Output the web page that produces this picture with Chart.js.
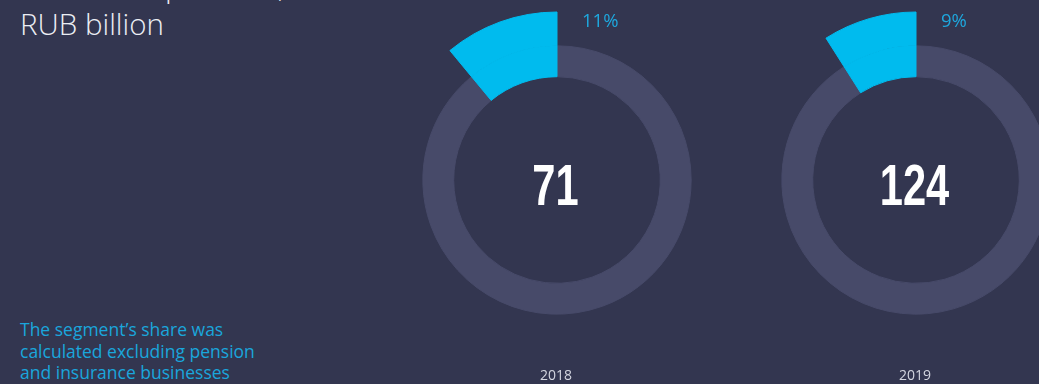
<!DOCTYPE html>
<html>
<head>
<meta charset="utf-8">
<script src="https://cdn.jsdelivr.net/npm/chart.js@4/dist/chart.umd.min.js"></script>
<style>
  html, body { margin: 0; padding: 0; }
  body {
    width: 1039px; height: 384px; overflow: hidden; position: relative;
    background: #333650; font-family: "Open Sans", sans-serif;
  }
  .title {
    position: absolute; left: 20px; top: -33px;
    color: #eceef4; font-size: 29.5px; font-weight: 350; line-height: 38px;
    white-space: nowrap;
  }
  .note {
    position: absolute; left: 20px; top: 319px;
    color: #1aa6dc; font-size: 17.5px; font-weight: 400; line-height: 21.5px;
    white-space: nowrap;
  }
  .donut { position: absolute; top: 0; }
  #d2018 { left: 378px; }
  #d2019 { left: 737px; }
</style>
</head>
<body>
<div class="title">Retail loan portfolio,<br>RUB billion</div>
<div class="note">The segment’s share was<br>calculated excluding pension<br>and insurance businesses</div>
<canvas id="d2018" class="donut" width="358" height="384"></canvas>
<canvas id="d2019" class="donut" width="358" height="384"></canvas>
<script>
const years = ['2018', '2019'];
const totals = [71, 124];      // RUB billion
const shares = [11, 9];        // segment share, %

const cyan = '#00bbee';
const ringGrey = '#474a69';
const clear = 'rgba(0,0,0,0)';

// text inside and around each ring
const donutText = {
  id: 'donutText',
  afterDraw(chart, args, opts) {
    const ctx = chart.ctx;
    const arc = chart.getDatasetMeta(1).data[0];
    const cx = arc.x, cy = arc.y;
    const i = opts.index;
    ctx.save();

    // total in the middle, squeezed bold digits
    ctx.fillStyle = '#ffffff';
    ctx.font = 'bold 57px "Liberation Sans", Arial, sans-serif';
    ctx.textAlign = 'center';
    ctx.textBaseline = 'alphabetic';
    ctx.translate(cx - 1.5, cy + 25);
    ctx.scale(0.73, 1);
    ctx.fillText(String(totals[i]), 0, 0);
    ctx.setTransform(1, 0, 0, 1, 0, 0);

    // share label to the right of the top
    ctx.fillStyle = '#1ea8de';
    ctx.font = '18.5px "Open Sans"';
    ctx.textAlign = 'left';
    ctx.fillText(shares[i] + '%', cx + 25, 27);

    // year below the ring
    ctx.fillStyle = '#d4d6e0';
    ctx.font = '14px "Open Sans"';
    ctx.textAlign = 'center';
    ctx.fillText(years[i], cx - 1, 380);
    ctx.restore();
  }
};

function makeDonut(canvasId, i) {
  const rest = 100 - shares[i];
  return new Chart(document.getElementById(canvasId), {
    type: 'doughnut',
    data: {
      labels: ['other', 'segment'],
      datasets: [
        // outer band: only the segment reaches out here
        {
          data: [rest, shares[i]], weight: 34,
          backgroundColor: [clear, cyan], borderColor: [clear, cyan]
        },
        // inner band: grey ring plus the segment
        {
          data: [rest, shares[i]], weight: 31,
          backgroundColor: [ringGrey, cyan], borderColor: [ringGrey, cyan]
        }
      ]
    },
    options: {
      responsive: false,
      animation: false,
      events: [],
      cutout: 103,
      radius: 168,
      rotation: 0,
      elements: { arc: { borderWidth: 1, spacing: 0 } },
      layout: { padding: { top: 12, bottom: 36, left: 0, right: 0 } },
      plugins: {
        legend: { display: false },
        tooltip: { enabled: false },
        donutText: { index: i }
      }
    },
    plugins: [donutText]
  });
}

makeDonut('d2018', 0);
makeDonut('d2019', 1);
</script>
</body>
</html>
